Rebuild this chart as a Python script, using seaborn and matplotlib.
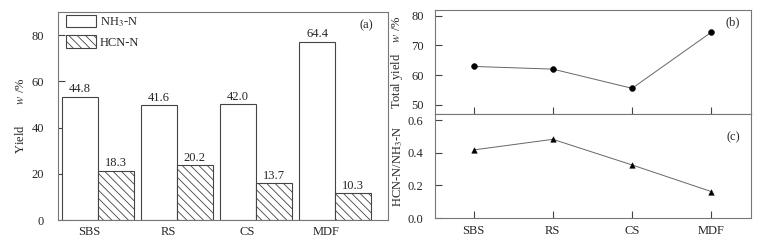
import matplotlib
matplotlib.use('Agg')
import matplotlib.pyplot as plt
from matplotlib.patches import Patch
import pandas as pd
import seaborn as sns

# values
samples = ['SBS', 'RS', 'CS', 'MDF']
species = ['NH$_3$-N', 'HCN-N']
nh3_height = [53.3, 49.6, 50.2, 77.1]
hcn_height = [21.3, 23.8, 16.0, 11.7]
nh3_labels = ['44.8', '41.6', '42.0', '64.4']
hcn_labels = ['18.3', '20.2', '13.7', '10.3']
total_yield = [62.9, 62.0, 55.5, 74.5]
hcn_nh3_ratio = [0.417, 0.482, 0.325, 0.162]

sns.set_style('ticks')
plt.rcParams['font.family'] = ['Liberation Serif', 'DejaVu Serif']
plt.rcParams['mathtext.fontset'] = 'stix'
plt.rcParams['font.size'] = 9
plt.rcParams['hatch.linewidth'] = 0.6
plt.rcParams['hatch.color'] = '#555555'

fs = 9
spine_col = '#777777'
edge_col = '#444444'

fig = plt.figure(figsize=(7.75, 2.45), dpi=100)
ax_a = fig.add_axes([0.0748, 0.102, 0.4258, 0.849])
ax_b = fig.add_axes([0.561, 0.5347, 0.408, 0.4243])
ax_c = fig.add_axes([0.561, 0.110, 0.408, 0.4247])

# (a) bars
bars = pd.DataFrame({
    'sample': samples * 2,
    'species': [species[0]] * 4 + [species[1]] * 4,
    'yield': nh3_height + hcn_height,
})
sns.barplot(data=bars, x='sample', y='yield', hue='species', ax=ax_a,
            width=0.9, palette=['white', 'white'],
            edgecolor=edge_col, linewidth=0.8, legend=False)
for p in ax_a.containers[1]:
    p.set_hatch('\\\\\\\\')
ax_a.bar_label(ax_a.containers[0], labels=nh3_labels, padding=1, fontsize=fs)
ax_a.bar_label(ax_a.containers[1], labels=hcn_labels, padding=1, fontsize=fs)

ax_a.set_xlim(-0.506, 3.67)
ax_a.set_ylim(0, 90)
ax_a.set_yticks([0, 20, 40, 60, 80])
ax_a.set_xticks([i - 0.11 for i in range(len(samples))], samples)
ax_a.tick_params(axis='x', length=0, pad=4)
ax_a.tick_params(axis='y', direction='in', length=5, width=0.8, color='#444444', pad=10)
ax_a.set_xlabel('')
ax_a.set_ylabel('Yield       $w$ /%', fontsize=fs)
ax_a.yaxis.set_label_coords(-0.094, 0.5)
ax_a.text(0.933, 0.934, '(a)', transform=ax_a.transAxes, ha='center', va='center', fontsize=fs)

handles = [Patch(facecolor='white', edgecolor=edge_col, linewidth=0.8),
           Patch(facecolor='white', edgecolor=edge_col, linewidth=0.8, hatch='\\\\\\\\')]
ax_a.legend(handles, species, loc='upper left', frameon=False,
            bbox_to_anchor=(0.018, 1.0), borderaxespad=0.1, borderpad=0.1,
            handlelength=2.4, handleheight=1.2, handletextpad=0.3,
            labelspacing=0.5, fontsize=fs)

# (b) total yield
tot = pd.DataFrame({'sample': samples, 'value': total_yield})
sns.lineplot(data=tot, x='sample', y='value', ax=ax_b, color='#666666', lw=0.7)
sns.scatterplot(data=tot, x='sample', y='value', ax=ax_b, color='black',
                marker='o', s=18, edgecolor='black', zorder=3)
ax_b.set_ylim(46.8, 82)
ax_b.set_yticks([50, 60, 70, 80])
ax_b.set_ylabel('Total yield    $w$ /%', fontsize=fs)
ax_b.yaxis.set_label_coords(-0.095, 0.5)
ax_b.text(0.943, 0.878, '(b)', transform=ax_b.transAxes, ha='center', va='center', fontsize=fs)

# (c) HCN/NH3 ratio
rat = pd.DataFrame({'sample': samples, 'value': hcn_nh3_ratio})
sns.lineplot(data=rat, x='sample', y='value', ax=ax_c, color='#666666', lw=0.7)
sns.scatterplot(data=rat, x='sample', y='value', ax=ax_c, color='black',
                marker='^', s=16, edgecolor='black', zorder=3)
ax_c.set_ylim(0, 0.637)
ax_c.set_yticks([0.0, 0.2, 0.4, 0.6])
ax_c.set_ylabel('HCN-N/NH$_3$-N', fontsize=fs)
ax_c.yaxis.set_label_coords(-0.095, 0.5)
ax_c.text(0.943, 0.78, '(c)', transform=ax_c.transAxes, ha='center', va='center', fontsize=fs)

for ax in (ax_b, ax_c):
    ax.set_xlim(-0.49, 3.5)
    ax.set_xlabel('')
    ax.tick_params(axis='x', direction='in', length=5, width=0.8, color='#444444', pad=5)
    ax.tick_params(axis='y', direction='in', length=5, width=0.8, color='#444444', pad=8)
ax_b.tick_params(axis='x', labelbottom=False)

for ax in (ax_a, ax_b, ax_c):
    for s in ax.spines.values():
        s.set_color(spine_col)
        s.set_linewidth(0.8)
    ax.tick_params(labelsize=fs)

fig.savefig('out.png', dpi=100)
